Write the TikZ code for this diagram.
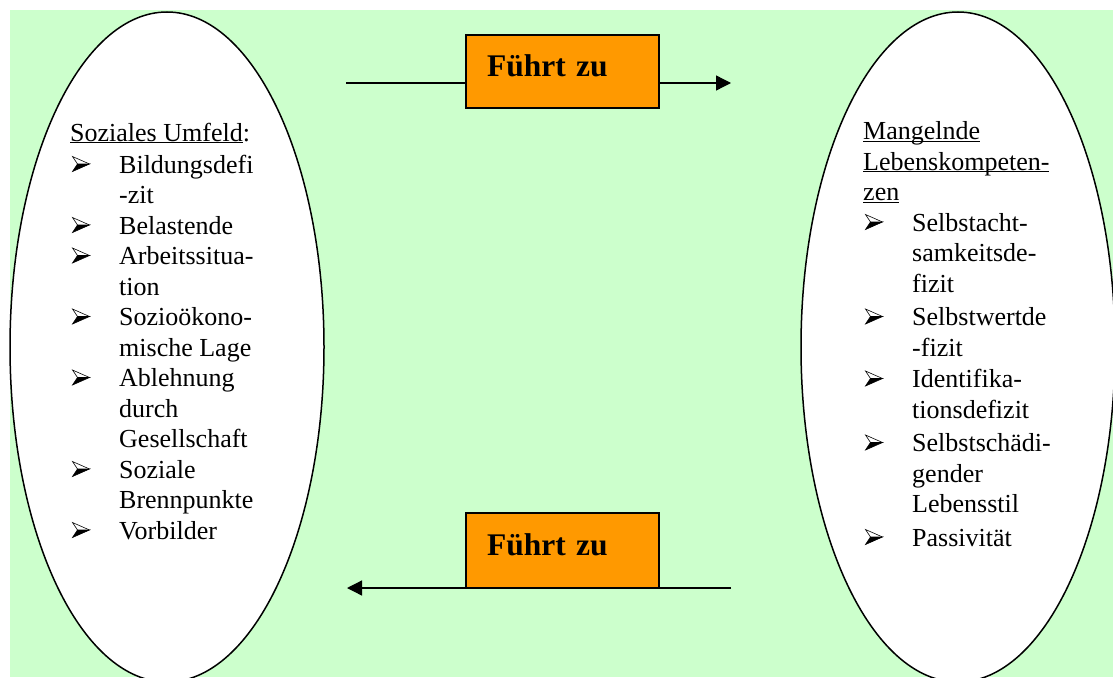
\documentclass[tikz,border=0pt]{standalone}
\usepackage{fontspec}
\setmainfont{Liberation Serif}
\usetikzlibrary{shapes.geometric,arrows.meta}
\definecolor{hellgruen}{RGB}{204,255,204}
\definecolor{fzorange}{RGB}{255,153,0}
\newsavebox{\pfeilbox}
\sbox{\pfeilbox}{\tikz[baseline=-1.5pt,x=1pt,y=1pt,line width=0.6pt,line join=miter]{
  \filldraw (5,7.5) -- (0,0) -- (17,7.5) -- cycle;
  \draw (5,7.5) -- (0,15) -- (17,7.5);}}
\newcommand{\pfeil}{\makebox[49pt][l]{\hspace{2pt}\usebox{\pfeilbox}}}
\newcommand{\weiter}{\hspace*{49pt}}
\newcommand{\kopf}[1]{\underline{\smash{#1}}}

\begin{document}
\begin{tikzpicture}[x=1pt,y=-1pt,
  oval/.style={ellipse,draw,fill=white,line width=1.5pt,minimum width=314pt,minimum height=670pt,inner sep=0pt},
  liste/.style={align=left,inner sep=0pt,anchor=base west,font=\fontsize{26}{30.5}\selectfont},
  fz/.style={rectangle,draw,fill=fzorange,line width=1.2pt,outer sep=0pt,anchor=north west,text width=151pt,inner xsep=21pt,inner ysep=0pt,text height=42pt,text depth=31pt,align=left,font=\fontsize{31.5}{31.5}\selectfont\bfseries},
  zeiger/.style={line width=1.3pt,-{Triangle[length=15pt,width=15pt]}}]
  \useasboundingbox (0,0) rectangle (1113,677);
  \clip (0,0) rectangle (1113,677);
  \fill[hellgruen] (10,10) rectangle (1113,677);
  \node [oval] (umfeld) at (167,347) {};
  \node [oval] (mangel) at (958,347) {};
  \node [liste] (umfeldtext) at (70,539) {\kopf{Soziales Umfeld}:\\[1.5pt]
    \pfeil Bildungsdefi\\ \weiter -zit\\
    \pfeil Belastende\\
    \pfeil Arbeitssitua-\\ \weiter tion\\
    \pfeil Sozioökono-\\ \weiter mische Lage\\
    \pfeil Ablehnung\\ \weiter durch\\ \weiter Gesellschaft\\
    \pfeil Soziale\\ \weiter Brennpunkte\\
    \pfeil Vorbilder};
  \node [liste] (mangeltext) at (863,546) {\kopf{Mangelnde}\\ \kopf{Lebenskompeten-}\\ \kopf{zen}\\
    \pfeil Selbstacht-\\ \weiter samkeitsde-\\ \weiter fizit\\[3pt]
    \pfeil Selbstwertde\\ \weiter -fizit\\[1pt]
    \pfeil Identifika-\\ \weiter tionsdefizit\\[3pt]
    \pfeil Selbstschädi-\\ \weiter gender\\ \weiter Lebensstil\\[3pt]
    \pfeil Passivität};
  \node [fz] (fuehrt1) at (466,35) {Führt zu};
  \node [fz,text depth=33pt] (fuehrt2) at (466,513) {Führt zu};
  \coordinate (ob1) at (346,83);
  \coordinate (ob2) at (731,83);
  \coordinate (un1) at (731,588);
  \coordinate (un2) at (347,588);
  \draw [line width=1.3pt] (ob1) -- (ob1 -| fuehrt1.west);
  \draw [zeiger] (ob1 -| fuehrt1.east) -- (ob2);
  \draw [line width=1.3pt] (un1) -- (fuehrt2.south east);
  \draw [zeiger] (fuehrt2.south west) -- (un2);
\end{tikzpicture}
\end{document}
